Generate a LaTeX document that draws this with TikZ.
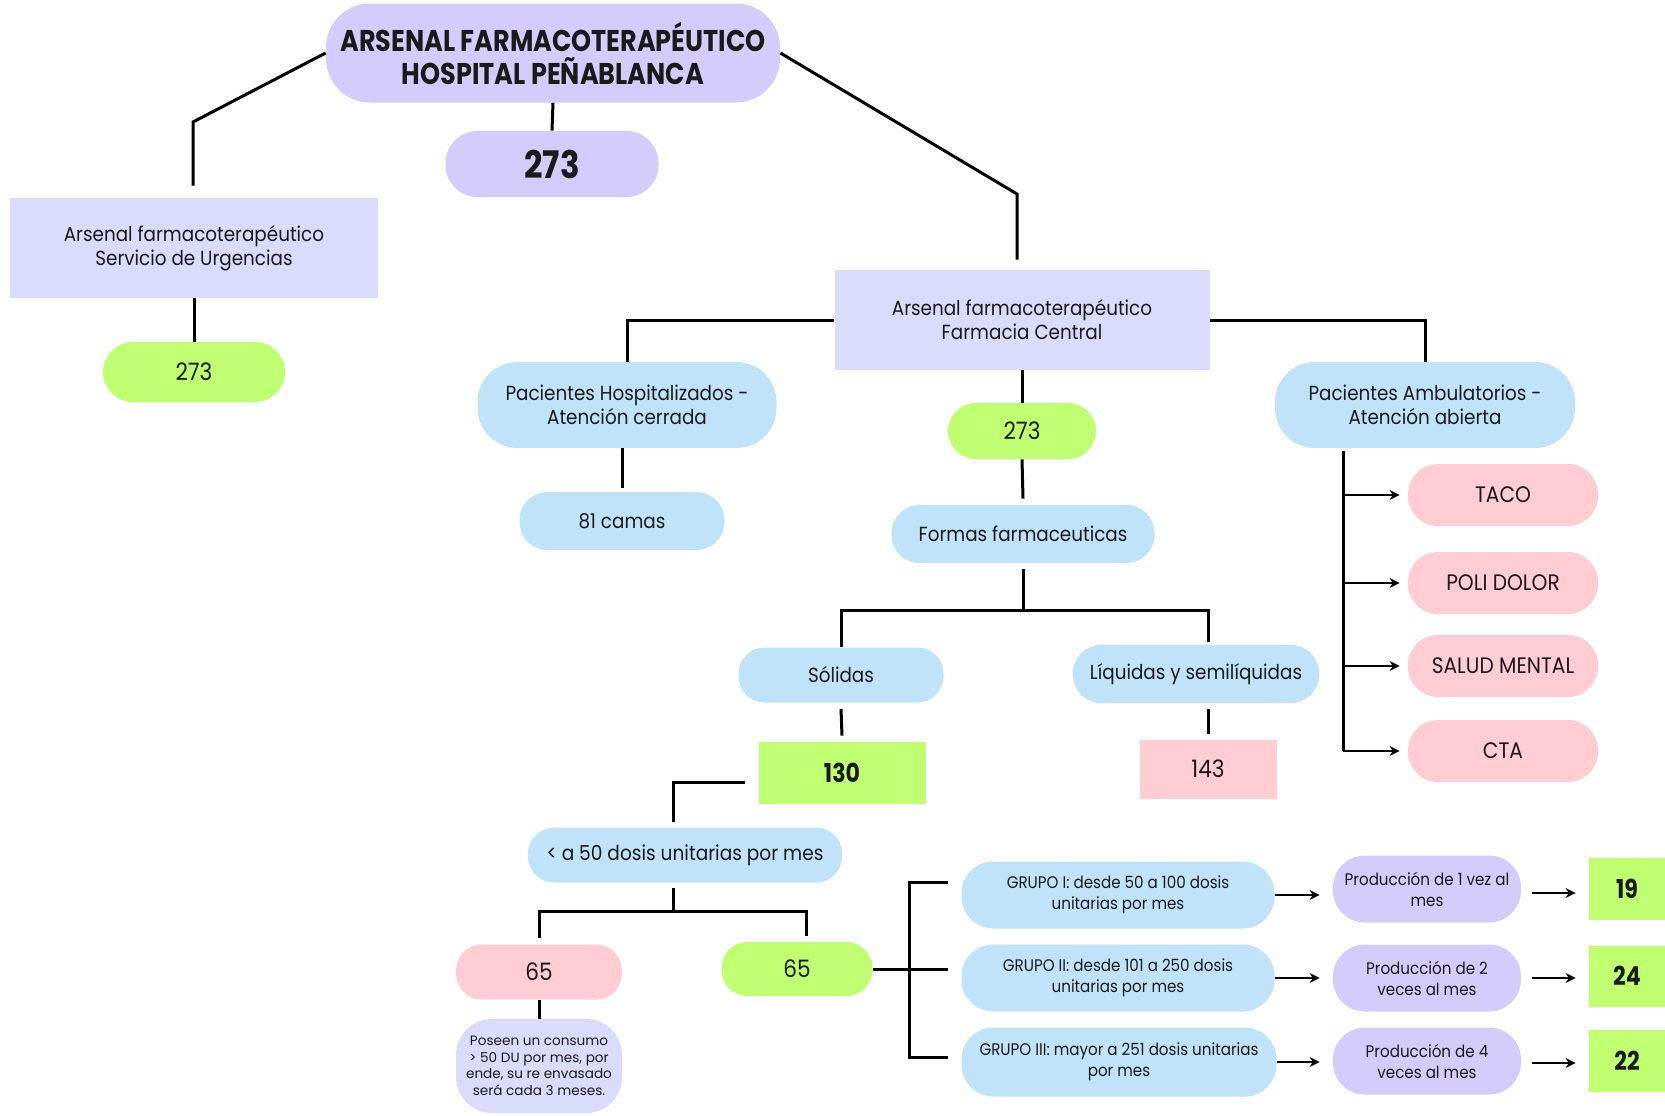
\documentclass[tikz,border=0pt]{standalone}
\usepackage{fontspec}
\setmainfont{Poppins}
\newfontfamily\bodyf[FakeStretch=0.9]{Poppins}
\newfontfamily\titlef[FakeStretch=0.85]{Poppins}
\newfontfamily\condf[FakeStretch=0.9]{Poppins}
\usetikzlibrary{arrows.meta,calc}
\definecolor{lav}{HTML}{D5CCFB}
\definecolor{peri}{HTML}{D9DCFB}
\definecolor{lime}{HTML}{C1FF72}
\definecolor{sky}{HTML}{C0E3FA}
\definecolor{rose}{HTML}{FFCDD3}
\definecolor{ink}{HTML}{1A1A1A}
\begin{document}
\begin{tikzpicture}[x=0.5pt,y=-0.5pt,
  box/.style={fill=#1, draw=none, inner sep=1pt, align=center, text=ink, font=\bodyf\fontsize{10.2}{12}\selectfont},
  sz/.style 2 args={minimum width=#1*0.5pt, minimum height=#2*0.5pt},
  conn/.style={draw=black, line width=1.5pt},
  arr/.style={draw=black, line width=1.1pt, -{Stealth[length=5pt,width=5pt]}},
  grp/.style={font=\condf\fontsize{8.4}{10.5}\selectfont},
  num/.style={font=\bodyf\fontsize{12}{14}\selectfont},
  caps/.style={font=\bodyf\fontsize{11.2}{14}\selectfont},
  big/.style={font=\titlef\bfseries\fontsize{13}{15}\selectfont}
]
\fill[white] (0,0) rectangle (1665,1115);
\useasboundingbox (0,0) rectangle (1665,1115);

% nodes
\node[box=lav, sz={454}{99}, rounded corners=22pt, font=\titlef\bfseries\fontsize{15}{16.5}\selectfont] (title) at (553,53) {ARSENAL FARMACOTERAPÉUTICO\\HOSPITAL PEÑABLANCA};
\node[box=lav, sz={213}{66}, rounded corners=16pt, font=\titlef\bfseries\fontsize{19}{20}\selectfont] (t273) at (552,164) {273};
\node[box=peri, sz={368}{100}] (urg) at (194,248) {Arsenal farmacoterapéutico\\Servicio de Urgencias};
\node[box=lime, sz={182}{60}, rounded corners=15pt, num] (u273) at (194,372) {273};
\node[box=peri, sz={375}{100}] (fc) at (1022,320) {Arsenal farmacoterapéutico\\Farmacia Central};
\node[box=sky, sz={299}{86}, rounded corners=20pt] (hosp) at (627,405) {Pacientes Hospitalizados -\\Atención cerrada};
\node[box=sky, sz={205}{58}, rounded corners=14pt] (camas) at (622,521) {81 camas};
\node[box=lime, sz={148}{56}, rounded corners=14pt, num] (f273) at (1022,431) {273};
\node[box=sky, sz={263}{58}, rounded corners=14pt] (formas) at (1023,534) {Formas farmaceuticas};
\node[box=sky, sz={205}{55}, rounded corners=13pt] (sol) at (841,675) {Sólidas};
\node[box=sky, sz={246}{58}, rounded corners=14pt] (liq) at (1196,674) {Líquidas y semilíquidas};
\node[box=lime, sz={167}{62}, big] (n130) at (842,773) {130};
\node[box=rose, sz={137}{59}, num] (n143) at (1208,769) {143};
\node[box=sky, sz={314}{55}, rounded corners=13pt, font=\bodyf\fontsize{10.3}{13}\selectfont] (menor) at (685,855) {< a 50 dosis unitarias por mes};
\node[box=rose, sz={166}{55}, rounded corners=13pt, num] (p65) at (539,972) {65};
\node[box=lime, sz={151}{54}, rounded corners=13pt, num] (g65) at (797,969) {65};
\node[box=peri, sz={166}{94}, rounded corners=18pt, font=\fontsize{6.8}{8.3}\selectfont] (note) at (539,1066) {Poseen un consumo\\> 50 DU por mes, por\\ende, su re envasado\\será cada 3 meses.};
\node[box=sky, sz={313}{67}, rounded corners=16pt, grp] (g1) at (1118,895) {GRUPO I: desde 50 a 100 dosis\\unitarias por mes};
\node[box=sky, sz={313}{67}, rounded corners=16pt, grp] (g2) at (1118,978) {GRUPO II: desde 101 a 250 dosis\\unitarias por mes};
\node[box=sky, sz={315}{69}, rounded corners=16pt, grp] (g3) at (1119,1062) {GRUPO III: mayor a 251 dosis unitarias\\por mes};
\node[box=lav, sz={188}{67}, rounded corners=16pt, grp] (p1) at (1427,889) {Producción de 1 vez al\\mes};
\node[box=lav, sz={188}{67}, rounded corners=16pt, grp] (p2) at (1427,978) {Producción de 2\\veces al mes};
\node[box=lav, sz={188}{67}, rounded corners=16pt, grp] (p3) at (1427,1061) {Producción de 4\\veces al mes};
\node[box=lime, sz={76}{62}, big] (n19) at (1627,889) {19};
\node[box=lime, sz={76}{61}, big] (n24) at (1627,976) {24};
\node[box=lime, sz={76}{62}, big] (n22) at (1627,1061) {22};
\node[box=sky, sz={300}{86}, rounded corners=20pt] (amb) at (1425,405) {Pacientes Ambulatorios -\\Atención abierta};
\node[box=rose, sz={190}{62}, rounded corners=15pt, caps] (taco) at (1503,495) {TACO};
\node[box=rose, sz={190}{62}, rounded corners=15pt, caps] (poli) at (1503,583) {POLI DOLOR};
\node[box=rose, sz={190}{62}, rounded corners=15pt, caps] (salud) at (1503,666) {SALUD MENTAL};
\node[box=rose, sz={190}{62}, rounded corners=15pt, caps] (cta) at (1503,751) {CTA};

% connector coordinates
\coordinate (lk) at (193,122);
\coordinate (rk) at (1017,194);
\coordinate (fb) at (1023,610);
\coordinate (mk) at (673,782);
\coordinate (mb) at (673,911);
\coordinate (b1) at (909,882);
\coordinate (b2) at (909,969);
\coordinate (b3) at (909,1057);
\coordinate (ak) at (1343,451);

% connectors
\draw[conn] (title.west) -- (lk) -- ($(lk |- urg.north)+(0,-12)$);
\draw[conn] (title.east) -- (rk) -- ($(rk |- fc.north)+(0,-10)$);
\draw[conn] (title.south) -- (t273.north);
\draw[conn] (urg.south) -- (u273.north);
\draw[conn] (fc.west) -| (hosp.north);
\draw[conn] (fc.east) -| (amb.north);
\draw[conn] (camas.north |- hosp.south) -- ($(camas.north)+(0,-4)$);
\draw[conn] (fc.south) -- (f273.north);
\draw[conn] (f273.south) -- ($(formas.north)+(0,-6)$);
\draw[conn] ($(formas.south)+(0,6)$) -- (fb);
\draw[conn] (sol.north) |- (fb) -| ($(n143.north |- liq.north)+(0,-3)$);
\draw[conn] ($(sol.south)+(0,6)$) -- ($(n130.north)+(0,-6)$);
\draw[conn] ($(n143.north |- liq.south)+(0,6)$) -- ($(n143.north)+(0,-5)$);
\draw[conn] ($(n130.west)+(-13,9)$) -- (mk) -- ($(mk |- menor.north)+(0,-5)$);
\draw[conn] ($(mk |- menor.south)+(0,5)$) -- (mb);
\draw[conn] ($(p65.north)+(0,-6)$) |- (mb) -| ($(g65.north)+(9,-6)$);
\draw[conn] (p65.south) -- (note.north);
\draw[conn] (g65.east) -- (b2) -- ($(b2)+(39,0)$);
\draw[conn] ($(b1)+(39,0)$) -- (b1) -- (b3) -- ($(b3)+(39,0)$);
\draw[arr] (g1.east) -- ($(p1.west |- g1.east)+(-13,0)$);
\draw[arr] (g2.east) -- ($(p2.west |- g2.east)+(-13,0)$);
\draw[arr] (g3.east) -- ($(p3.west |- g3.east)+(-13,0)$);
\draw[arr] ($(p1.east)+(11,4)$) -- ($(n19.west |- p1.east)+(-13,4)$);
\draw[arr] ($(p2.east)+(11,0)$) -- ($(n24.west |- p2.east)+(-13,0)$);
\draw[arr] ($(p3.east)+(11,2)$) -- ($(n22.west |- p3.east)+(-13,2)$);
\draw[conn] (ak) -- (ak |- cta.west);
\draw[arr] (ak |- taco.west) -- ($(taco.west)+(-8,0)$);
\draw[arr] (ak |- poli.west) -- ($(poli.west)+(-8,0)$);
\draw[arr] (ak |- salud.west) -- ($(salud.west)+(-8,0)$);
\draw[arr] (ak |- cta.west) -- ($(cta.west)+(-8,0)$);
\end{tikzpicture}
\end{document}
